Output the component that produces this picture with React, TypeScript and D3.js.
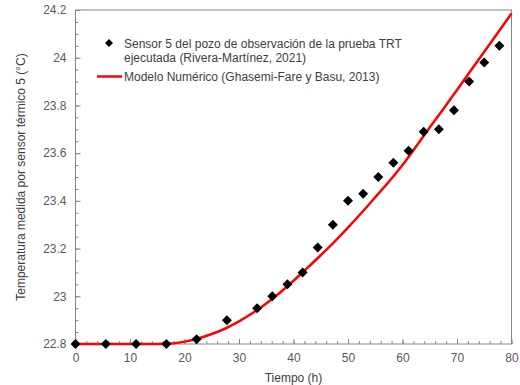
import React, { useEffect, useRef } from 'react';
import * as d3 from 'd3';

// measured points (sensor 5)
const obsTime = [0, 5.56, 11.11, 16.67, 22.22, 27.78, 33.33, 36.11, 38.89, 41.67, 44.44, 47.22, 50, 52.78, 55.56, 58.33, 61.11, 63.89, 66.67, 69.44, 72.22, 75, 77.78];
const obsTemp = [22.8, 22.8, 22.8, 22.8, 22.82, 22.9, 22.95, 23.0, 23.05, 23.1, 23.205, 23.3, 23.4, 23.43, 23.5, 23.56, 23.61, 23.69, 23.7, 23.78, 23.9, 23.98, 24.05];

// numerical model curve
const modelTime = [0, 10, 15, 17.5, 20, 22.5, 25, 27.5, 30, 32.5, 35, 37.5, 40, 42.5, 45, 47.5, 50, 52.5, 55, 57.5, 60, 62.5, 65, 67.5, 70, 72.5, 75, 77.5, 80];
const modelTemp = [22.8, 22.8, 22.8, 22.802, 22.81, 22.823, 22.842, 22.865, 22.895, 22.93, 22.97, 23.015, 23.065, 23.118, 23.172, 23.228, 23.288, 23.35, 23.415, 23.48, 23.55, 23.628, 23.708, 23.785, 23.865, 23.945, 24.025, 24.105, 24.185];

const xTicks = [0, 10, 20, 30, 40, 50, 60, 70, 80];
const yTicks = [22.8, 23, 23.2, 23.4, 23.6, 23.8, 24, 24.2];

const legendLabels = [
  'Sensor 5 del pozo de observación de la prueba TRT',
  'ejecutada (Rivera-Martínez, 2021)',
  'Modelo Numérico (Ghasemi-Fare y Basu, 2013)',
];

const App = () => {
  const svgRef = useRef<SVGSVGElement>(null);

  useEffect(() => {
    const svg = d3.select(svgRef.current);
    svg.selectAll('*').remove();

    const width = 520;
    const height = 385;
    const font = 'Liberation Sans, Arial, sans-serif';
    const axisColor = '#868686';
    const labelColor = '#595959';

    const x = d3.scaleLinear().domain([0, 80]).range([75.5, 511.5]);
    const y = d3.scaleLinear().domain([22.8, 24.2]).range([344, 10]);

    svg.append('rect').attr('width', width).attr('height', height).attr('fill', '#fff');

    // minor ticks
    const xMinor = d3.range(0, 80.01, 2);
    const yMinor = d3.range(22.8, 24.201, 0.05);

    const xAxisMinor = svg.append('g')
      .attr('transform', `translate(0,${y(22.8)})`)
      .call(d3.axisBottom(x).tickValues(xMinor).tickSize(-3).tickFormat(() => ''));
    xAxisMinor.select('.domain').remove();
    xAxisMinor.selectAll('.tick line').attr('stroke', axisColor);

    const yAxisMinor = svg.append('g')
      .attr('transform', `translate(${x(0)},0)`)
      .call(d3.axisLeft(y).tickValues(yMinor).tickSize(-3).tickFormat(() => ''));
    yAxisMinor.select('.domain').remove();
    yAxisMinor.selectAll('.tick line').attr('stroke', axisColor);

    // major ticks
    const xAxis = svg.append('g')
      .attr('transform', `translate(0,${y(22.8)})`)
      .call(d3.axisBottom(x).tickValues(xTicks).tickSize(-5).tickPadding(9).tickFormat(d3.format('d')));
    xAxis.select('.domain').remove();
    xAxis.selectAll('.tick line').attr('stroke', axisColor);
    xAxis.selectAll('.tick text').attr('fill', labelColor).attr('font-size', '12px').attr('font-family', font);

    const yAxis = svg.append('g')
      .attr('transform', `translate(${x(0)},0)`)
      .call(d3.axisLeft(y).tickValues(yTicks).tickSize(-5).tickPadding(9).tickFormat(d => String(+(+d).toFixed(1))));
    yAxis.select('.domain').remove();
    yAxis.selectAll('.tick line').attr('stroke', axisColor);
    yAxis.selectAll('.tick text').attr('fill', labelColor).attr('font-size', '12px').attr('font-family', font);

    // frame
    svg.append('rect')
      .attr('x', x(0)).attr('y', y(24.2))
      .attr('width', x(80) - x(0)).attr('height', y(22.8) - y(24.2))
      .attr('fill', 'none').attr('stroke', axisColor).attr('stroke-width', 1);

    // model line
    const line = d3.line<number>()
      .x((d, i) => x(modelTime[i]))
      .y(d => y(d))
      .curve(d3.curveMonotoneX);

    svg.append('path')
      .datum(modelTemp)
      .attr('fill', 'none')
      .attr('stroke', '#ff0000')
      .attr('stroke-width', 2.5)
      .attr('d', line);

    // measured points
    const diamond = (r: number) => `M0,${-r}L${r},0L0,${r}L${-r},0Z`;
    svg.append('g').selectAll('path')
      .data(obsTemp)
      .join('path')
      .attr('transform', (d, i) => `translate(${x(obsTime[i])},${y(d)})`)
      .attr('d', diamond(5))
      .attr('fill', '#000');

    // legend
    const lg = svg.append('g').attr('font-family', font).attr('font-size', '12px').attr('fill', '#404040');
    lg.append('path').attr('transform', 'translate(109,43)').attr('d', diamond(4)).attr('fill', '#000');
    lg.append('text').attr('x', 124).attr('y', 47.5).text(legendLabels[0]);
    lg.append('text').attr('x', 124).attr('y', 62).text(legendLabels[1]);
    lg.append('line').attr('x1', 97).attr('x2', 122).attr('y1', 76.5).attr('y2', 76.5)
      .attr('stroke', '#ff0000').attr('stroke-width', 2.5);
    lg.append('text').attr('x', 124).attr('y', 81).text(legendLabels[2]);

    // axis titles
    svg.append('text')
      .attr('x', (x(0) + x(80)) / 2).attr('y', 382)
      .attr('text-anchor', 'middle')
      .attr('font-family', font).attr('font-size', '12px').attr('fill', '#404040')
      .text('Tiempo (h)');

    svg.append('text')
      .attr('transform', `translate(25,${(y(22.8) + y(24.2)) / 2}) rotate(-90)`)
      .attr('text-anchor', 'middle')
      .attr('font-family', font).attr('font-size', '12px').attr('fill', '#404040')
      .text('Temperatura medida por sensor térmico 5 (°C)');
  }, []);

  return (
    <svg ref={svgRef} width={520} height={385} style={{ position: 'absolute', left: 0, top: 0 }} />
  );
};

export default App;
